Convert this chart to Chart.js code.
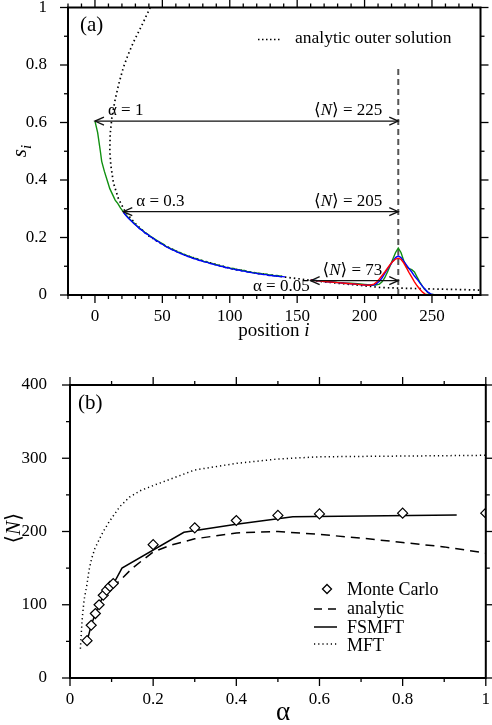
<!DOCTYPE html>
<html><head><meta charset="utf-8">
<script src="https://cdn.jsdelivr.net/npm/chart.js@4.4.1/dist/chart.umd.min.js"></script>
<style>
html,body{margin:0;padding:0;background:#fff;}
#wrap{position:relative;width:492px;height:725px;overflow:hidden;background:#fff;}
canvas{position:absolute;left:0;}
</style></head><body>
<div id="wrap">
<canvas id="ca" width="492" height="360" style="top:0px"></canvas>
<canvas id="cb" width="492" height="365" style="top:360px"></canvas>
</div>
<script>
// ---------------- Panel (a) data: [position i, s_i] ----------------
const profileAlpha1 = [[0,0.605],[2,0.565],[4,0.50],[5,0.465],[7,0.43],[9,0.40],[11,0.37],
[13,0.35],[15,0.33],[17,0.318],[19,0.302],[21,0.29],[23,0.278],[25,0.268],[27,0.258],[29,0.25],[31,0.241],[33,0.233],[35,0.226],[37,0.218],[39,0.212],[41,0.205],[43,0.199],[45,0.193],[47,0.187],[49,0.181],[51,0.176],[53,0.168],[55,0.165],[57,0.159],[59,0.156],[61,0.150],[63,0.148],[65,0.143],[67,0.140],[69,0.135],[71,0.133],[73,0.128],[75,0.127],[77,0.122],[79,0.121],[81,0.116],[83,0.116],[85,0.111],[87,0.110],[89,0.106],[91,0.105],[93,0.101],[95,0.100],[97,0.096],[99,0.096],[101,0.092],[103,0.092],[105,0.088],[107,0.088],[109,0.085],[111,0.085],[113,0.081],[115,0.081],[117,0.078],[119,0.078],[121,0.075],[123,0.075],[125,0.072],[127,0.073],[129,0.070],[131,0.070],[133,0.067],[135,0.068],[137,0.066],[139,0.065],
[150,null],
[160,0.053],[165,0.050],[170,0.048],[175,0.046],[180,0.044],[185,0.042],[190,0.041],[195,0.039],[200,0.037],[205,0.035],[208,0.035],[211,0.038],[213,0.046],[215,0.060],[217,0.080],[219,0.102],[221,0.125],[223,0.148],[225,0.163],[227,0.148],[229,0.120],[231,0.098],[233,0.092],[235,0.088],[237,0.080],[239,0.062],[241,0.045],[243,0.030],[245,0.018],[247,0.008],[249,0.003],[252,0.001]];

const profileAlpha03 = [[21,0.288],[23,0.276],[25,0.266],[27,0.257],[29,0.248],[31,0.240],[33,0.231],[35,0.225],[37,0.216],[39,0.211],[41,0.203],[43,0.198],[45,0.190],[47,0.186],[49,0.179],[51,0.174],[53,0.167],[55,0.163],[57,0.158],[59,0.154],[61,0.149],[63,0.146],[65,0.141],[67,0.138],[69,0.134],[71,0.131],[73,0.127],[75,0.125],[77,0.121],[79,0.119],[81,0.115],[83,0.114],[85,0.110],[87,0.108],[89,0.105],[91,0.103],[93,0.100],[95,0.099],[97,0.095],[99,0.095],[101,0.091],[103,0.090],[105,0.087],[107,0.087],[109,0.083],[111,0.083],[113,0.080],[115,0.079],[117,0.077],[119,0.076],[121,0.074],[123,0.073],[125,0.071],[127,0.071],[129,0.068],[131,0.068],[133,0.066],[135,0.066],[137,0.064],[139,0.064],[141,0.063],
[150,null],
[160,0.052],[165,0.050],[170,0.047],[175,0.045],[180,0.043],[185,0.041],[190,0.039],[195,0.037],[200,0.035],[205,0.034],[208,0.036],[211,0.048],[213,0.060],[215,0.075],[217,0.090],[219,0.104],[221,0.118],[223,0.130],[225,0.136],[227,0.130],[229,0.118],[231,0.105],[233,0.092],[235,0.080],[237,0.066],[239,0.055],[241,0.042],[243,0.030],[245,0.019],[247,0.010],[249,0.004],[251,0.001]];

const profileAlpha005 = [[160,0.052],[163,0.050],[166,0.049],[170,0.047],[175,0.045],[180,0.043],[185,0.041],[190,0.039],[195,0.037],[200,0.035],[204,0.034],[207,0.038],[209,0.045],[211,0.056],[213,0.068],[215,0.080],[217,0.093],[219,0.106],[221,0.117],[223,0.125],[225,0.128],[227,0.124],[229,0.112],[231,0.095],[233,0.078],[235,0.062],[237,0.046],[239,0.032],[241,0.020],[243,0.010],[245,0.003],[247,0.001]];

const outerSolution = [[41,1.0],[35,0.94],[28.6,0.88],[24.5,0.835],[21,0.79],[17.7,0.735],[15,0.68],[12.6,0.62],[11.3,0.56],[11.0,0.50],[11.8,0.45],[13.7,0.39],[17.4,0.335],[22.4,0.29],[30,0.248],[40,0.205],[50,0.176],[65,0.142],[80,0.119],[100,0.093],[120,0.076],[140,0.063],[160,0.051],[180,0.041],[200,0.032],[212,0.026],[225,0.024],[250,0.021],[270,0.019],[286,0.017]];

const xTicksA = [0,50,100,150,200,250];
const yTicksA = [0,0.2,0.4,0.6,0.8,1];
const arrowFrom = [0,21,160];
const arrowTo = [225,225,225];
const arrowLevel = [0.605,0.29,0.05];
const alphaLabels = ['1','0.3','0.05'];
const meanNLabels = ['225','205','73'];
const markerPos = 225;
const markerTop = 0.79;

// ---------------- Panel (b) data ----------------
const alphaMC = [0.041,0.051,0.061,0.070,0.080,0.088,0.096,0.104,0.2,0.3,0.4,0.5,0.6,0.8,1.0];
const nMC     = [51,72,88,100,113,120,125,129,182,205,215,222,224,225,225];
const alphaFSMFT = [0.041,0.051,0.061,0.070,0.080,0.088,0.096,0.104,0.125,0.274,0.4,0.536,0.93];
const nFSMFT     = [50,72,88,100,112,119,125,128,150,199,210,220,222.5];
const alphaAnalytic = [0.1,0.12,0.15,0.175,0.2,0.24,0.3,0.4,0.5,0.6,0.7,0.8,0.9,1.0];
const nAnalytic     = [124,133,150,161,172,181,190,198,200,196,191,185,179,170.5];
const alphaMFT = [0.025,0.027,0.03,0.034,0.04,0.046,0.052,0.06,0.071,0.08,0.095,0.12,0.143,0.17,0.206,0.258,0.3,0.4,0.5,0.6,0.8,1.0];
const nMFT     = [40,60,85,107,125,148,163,177,190,200,214,234,247,256,264,275,284,293,299,302,303,304];
const xTicksB = [0,0.2,0.4,0.6,0.8,1];
const yTicksB = [0,100,200,300,400];
const legendB = ['Monte Carlo','analytic','FSMFT','MFT'];

// ---------------- helpers ----------------
const SERIF = '"Liberation Serif","DejaVu Serif",serif';
const fnt = (s, it) => (it ? 'italic ' : '') + s + 'px ' + SERIF;
const pairs = arr => arr.map(p => ({x: p[0], y: p[1]}));
const zip = (xs, ys) => xs.map((x, i) => ({x, y: ys[i]}));

function rich(ctx, parts, x, y, align) {
  let w = 0;
  parts.forEach(p => { ctx.font = p[1]; w += ctx.measureText(p[0]).width; });
  let cx = align === 'right' ? x - w : (align === 'center' ? x - w / 2 : x);
  ctx.textAlign = 'left'; ctx.textBaseline = 'alphabetic';
  parts.forEach(p => { ctx.font = p[1]; ctx.fillText(p[0], cx, y + (p[2] || 0)); cx += ctx.measureText(p[0]).width; });
}
function seg(ctx, x1, y1, x2, y2) { ctx.beginPath(); ctx.moveTo(x1, y1); ctx.lineTo(x2, y2); ctx.stroke(); }

function frameTicks(o) {
  return {
    id: 'frameTicks',
    afterDraw(chart) {
      const {ctx, chartArea: a, scales: {x, y}} = chart;
      ctx.save();
      ctx.strokeStyle = '#000'; ctx.lineWidth = 1.3; ctx.setLineDash([]);
      const isMaj = (v, m) => Math.abs(v / m - Math.round(v / m)) < 1e-6;
      for (let k = Math.ceil(x.min / o.xMinor - 1e-9); k * o.xMinor <= x.max + 1e-9; k++) {
        const v = k * o.xMinor, px = x.getPixelForValue(v);
        const L = isMaj(v, o.xMajor) ? 8 : 4;
        seg(ctx, px, a.bottom, px, a.bottom + L);
        seg(ctx, px, a.top, px, a.top - L);
      }
      for (let k = Math.ceil(y.min / o.yMinor - 1e-9); k * o.yMinor <= y.max + 1e-9; k++) {
        const v = k * o.yMinor, py = y.getPixelForValue(v);
        const L = isMaj(v, o.yMajor) ? 8 : 4;
        seg(ctx, a.left, py, a.left - L, py);
        seg(ctx, a.right, py, a.right + L, py);
      }
      ctx.lineWidth = 2;
      ctx.strokeRect(a.left, a.top, a.right - a.left, a.bottom - a.top);
      ctx.restore();
    }
  };
}
function fixScale(w, h) {
  return function (s) {
    if (w !== null) s.width = w;
    if (h !== null) s.height = h;
    s.paddingLeft = 0; s.paddingRight = 0; s.paddingTop = 0; s.paddingBottom = 0;
  };
}
const tickFont = {family: SERIF, size: 17};

// ---------------- Chart (a) ----------------
const annotA = {
  id: 'annotA',
  beforeDatasetsDraw(chart) {
    const {ctx, scales: {x, y}} = chart;
    ctx.save();
    ctx.strokeStyle = '#555'; ctx.lineWidth = 2; ctx.setLineDash([6, 4]);
    seg(ctx, x.getPixelForValue(markerPos), y.getPixelForValue(0), x.getPixelForValue(markerPos), y.getPixelForValue(markerTop));
    ctx.restore();
  },
  afterDatasetsDraw(chart) {
    const {ctx, scales: {x, y}} = chart;
    ctx.save();
    ctx.strokeStyle = '#111'; ctx.fillStyle = '#000'; ctx.lineWidth = 1.3; ctx.setLineDash([]);
    for (let k = 0; k < arrowFrom.length; k++) {
      const x1 = x.getPixelForValue(arrowFrom[k]), x2 = x.getPixelForValue(arrowTo[k]), py = y.getPixelForValue(arrowLevel[k]);
      seg(ctx, x1, py, x2, py);
      ctx.beginPath(); ctx.moveTo(x1 + 9, py - 4); ctx.lineTo(x1, py); ctx.lineTo(x1 + 9, py + 4); ctx.stroke();
      ctx.beginPath(); ctx.moveTo(x2 - 9, py - 4); ctx.lineTo(x2, py); ctx.lineTo(x2 - 9, py + 4); ctx.stroke();
      const aParts = [['α = ' + alphaLabels[k], fnt(17)]];
      const nParts = [['⟨', fnt(17)], ['N', fnt(17, true)], ['⟩ = ' + meanNLabels[k], fnt(17)]];
      if (k < 2) {
        rich(ctx, aParts, x1 + 13, py - 6, 'left');
        rich(ctx, nParts, x2 - 16, py - 6, 'right');
      } else {
        rich(ctx, nParts, (x1 + x2) / 2 - 2, py - 6, 'center');
        rich(ctx, aParts, x1 - 1, py + 10, 'right');
      }
    }
    ctx.restore();
  },
  afterDraw(chart) {
    const {ctx} = chart;
    ctx.save(); ctx.fillStyle = '#000';
    rich(ctx, [['(a)', fnt(21)]], 80, 31, 'left');
    // legend
    ctx.strokeStyle = '#000'; ctx.lineWidth = 1.5; ctx.setLineDash([1.5, 2.5]);
    seg(ctx, 258, 39.5, 281, 39.5);
    ctx.setLineDash([]);
    rich(ctx, [['analytic outer solution', fnt(17.5)]], 295, 43, 'left');
    // x title
    rich(ctx, [['position ', fnt(19)], ['i', fnt(19, true)]], 274, 336, 'center');
    // y title
    ctx.translate(21, 151); ctx.rotate(-Math.PI / 2);
    rich(ctx, [['s', fnt(21, true)], ['i', fnt(15, true), 5]], 0, 5, 'center');
    ctx.restore();
  }
};

new Chart(document.getElementById('ca'), {
  type: 'scatter',
  data: {datasets: [
    {label: 'α = 0.05', data: pairs(profileAlpha005), showLine: true, borderColor: '#ff0000', borderWidth: 1.4, pointRadius: 0, order: 1},
    {label: 'α = 0.3', data: pairs(profileAlpha03), showLine: true, borderColor: '#0000ff', borderWidth: 1.4, pointRadius: 0, order: 2},
    {label: 'α = 1', data: pairs(profileAlpha1), showLine: true, borderColor: '#109010', borderWidth: 1.4, pointRadius: 0, order: 3},
    {label: 'analytic outer solution', data: pairs(outerSolution), showLine: true, borderColor: '#000', borderWidth: 1.7, borderDash: [1.5, 3], pointRadius: 0, order: 4}
  ]},
  options: {
    responsive: false, animation: false, devicePixelRatio: 1,
    layout: {padding: {left: 0, right: 11.5, top: 7.5, bottom: 25}},
    plugins: {legend: {display: false}, tooltip: {enabled: false}},
    scales: {
      x: {type: 'linear', min: -20, max: 286,
        grid: {display: false}, border: {display: false},
        afterBuildTicks: s => { s.ticks = xTicksA.map(v => ({value: v})); },
        afterFit: fixScale(null, 40),
        ticks: {font: tickFont, color: '#000', padding: 3, maxRotation: 0, callback: v => String(v)}},
      y: {type: 'linear', min: 0, max: 1,
        grid: {display: false}, border: {display: false},
        afterBuildTicks: s => { s.ticks = yTicksA.map(v => ({value: v})); },
        afterFit: fixScale(68, null),
        ticks: {font: tickFont, color: '#000', padding: 13, callback: v => String(v)}}
    }
  },
  plugins: [annotA, frameTicks({xMajor: 50, xMinor: 10, yMajor: 0.2, yMinor: 0.1})]
});

// ---------------- Chart (b) ----------------
function diamond(ctx, cx, cy, r) {
  ctx.beginPath(); ctx.moveTo(cx, cy - r); ctx.lineTo(cx + r, cy); ctx.lineTo(cx, cy + r); ctx.lineTo(cx - r, cy); ctx.closePath();
  ctx.fillStyle = '#fff'; ctx.fill(); ctx.stroke();
}
const annotB = {
  id: 'annotB',
  afterDraw(chart) {
    const {ctx} = chart;
    ctx.save(); ctx.fillStyle = '#000'; ctx.strokeStyle = '#000';
    rich(ctx, [['(b)', fnt(21)]], 78, 49, 'left');
    // legend
    const base = [235, 254, 273, 291];
    ctx.lineWidth = 1.3; ctx.setLineDash([]);
    diamond(ctx, 327, base[0] - 6, 4.5);
    ctx.lineWidth = 1.5; ctx.setLineDash([8, 6]); seg(ctx, 314, base[1] - 5, 337, base[1] - 5);
    ctx.setLineDash([]); seg(ctx, 314, base[2] - 6, 337, base[2] - 6);
    ctx.lineWidth = 1.4; ctx.strokeStyle = '#000'; ctx.setLineDash([1.2, 3]); seg(ctx, 314, base[3] - 7, 337, base[3] - 7);
    ctx.setLineDash([]);
    ctx.fillStyle = '#000';
    legendB.forEach((t, i) => rich(ctx, [[t, fnt(18)]], 347, base[i], 'left'));
    // x title
    rich(ctx, [['α', fnt(27)]], 283, 360, 'center');
    // y title
    ctx.translate(13, 168); ctx.rotate(-Math.PI / 2);
    rich(ctx, [['⟨', fnt(21)], ['N', fnt(21, true)], ['⟩', fnt(21)]], 0, 7, 'center');
    ctx.restore();
  }
};

new Chart(document.getElementById('cb'), {
  type: 'scatter',
  data: {datasets: [
    {label: 'Monte Carlo', data: zip(alphaMC, nMC), showLine: false, pointStyle: 'rectRot', pointRadius: 5, pointBackgroundColor: '#fff', pointBorderColor: '#000', pointBorderWidth: 1.2, order: 1},
    {label: 'FSMFT', data: zip(alphaFSMFT, nFSMFT), showLine: true, borderColor: '#000', borderWidth: 1.5, pointRadius: 0, order: 2},
    {label: 'analytic', data: zip(alphaAnalytic, nAnalytic), showLine: true, borderColor: '#000', borderWidth: 1.5, borderDash: [9, 6], pointRadius: 0, order: 3},
    {label: 'MFT', data: zip(alphaMFT, nMFT), showLine: true, borderColor: '#000', borderWidth: 1.5, borderDash: [1.2, 3], pointRadius: 0, order: 4}
  ]},
  options: {
    responsive: false, animation: false, devicePixelRatio: 1,
    layout: {padding: {left: 0, right: 2, top: 25, bottom: 7}},
    plugins: {legend: {display: false}, tooltip: {enabled: false}},
    scales: {
      x: {type: 'linear', min: 0, max: 1,
        grid: {display: false}, border: {display: false},
        afterBuildTicks: s => { s.ticks = xTicksB.map(v => ({value: v})); },
        afterFit: fixScale(null, 40),
        ticks: {font: tickFont, color: '#000', padding: 3, maxRotation: 0, callback: v => String(v)}},
      y: {type: 'linear', min: 0, max: 400,
        grid: {display: false}, border: {display: false},
        afterBuildTicks: s => { s.ticks = yTicksB.map(v => ({value: v})); },
        afterFit: fixScale(70, null),
        ticks: {font: tickFont, color: '#000', padding: 15, callback: v => String(v)}}
    }
  },
  plugins: [annotB, frameTicks({xMajor: 0.2, xMinor: 0.1, yMajor: 100, yMinor: 50})]
});
</script>
</body></html>
